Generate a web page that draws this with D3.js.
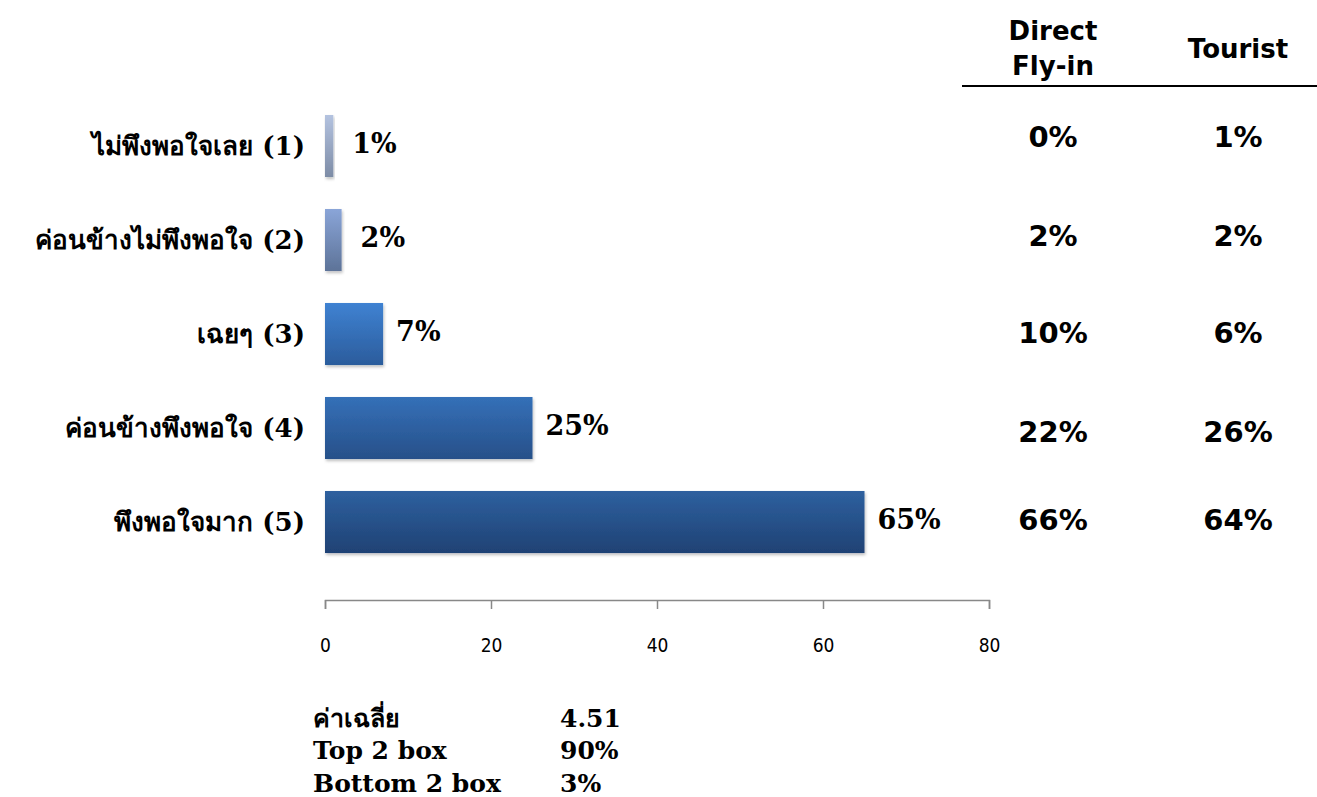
<!DOCTYPE html>
<html>
<head>
<meta charset="utf-8">
<script src="https://cdn.jsdelivr.net/npm/d3@7"></script>
<style>
  body { margin: 0; background: #fff; }
  #chart { width: 1317px; height: 797px; }
</style>
</head>
<body>
<div id="chart"></div>
<script>

var categories = ["ไม่พึงพอใจเลย (1)", "ค่อนข้างไม่พึงพอใจ (2)", "เฉยๆ (3)", "ค่อนข้างพึงพอใจ (4)", "พึงพอใจมาก (5)"];
var totalValues = [1, 2, 7, 25, 65];
var directValues = [0, 2, 10, 22, 66];
var touristValues = [1, 2, 6, 26, 64];
var xTicks = [0, 20, 40, 60, 80];
var statLabels = ["ค่าเฉลี่ย", "Top 2 box", "Bottom 2 box"];
var statValues = ["4.51", "90%", "3%"];

// gradient colours per bar (top, bottom)
var barColors = [
    ["#b4c3e0", "#7d8ca6"],
    ["#8aa5d8", "#5d7398"],
    ["#3f82d2", "#2b5c9c"],
    ["#3470b8", "#275089"],
    ["#2e609f", "#1f4274"]
];

var width = 1317, height = 797;
var svg = d3.select("#chart")
    .append("svg")
    .attr("width", width)
    .attr("height", height);

var defs = svg.append("defs");
barColors.forEach(function(c, i) {
    var g = defs.append("linearGradient")
        .attr("id", "grad" + i)
        .attr("x1", 0).attr("y1", 0).attr("x2", 0).attr("y2", 1);
    g.append("stop").attr("offset", "0%").attr("stop-color", c[0]);
    g.append("stop").attr("offset", "100%").attr("stop-color", c[1]);
});
var filt = defs.append("filter").attr("id", "shadow")
    .attr("x", "-10%").attr("y", "-10%").attr("width", "130%").attr("height", "130%");
filt.append("feDropShadow")
    .attr("dx", 1).attr("dy", 2).attr("stdDeviation", 1.5)
    .attr("flood-color", "#000").attr("flood-opacity", 0.25);

var x = d3.scaleLinear().domain([0, 80]).range([325, 989]);
var y = d3.scaleBand().domain(categories).range([99, 569]).paddingInner(0.34).paddingOuter(0.17);

var labelFont = "'DejaVu Serif', 'Liberation Serif', serif";
var tableFont = "'DejaVu Sans', Verdana, sans-serif";

// bars
svg.selectAll("rect.bar")
    .data(totalValues)
    .enter()
    .append("rect")
    .attr("class", "bar")
    .attr("x", x(0))
    .attr("y", function(d, i) { return y(categories[i]); })
    .attr("width", function(d) { return x(d) - x(0); })
    .attr("height", y.bandwidth())
    .attr("fill", function(d, i) { return "url(#grad" + i + ")"; })
    .attr("filter", "url(#shadow)");

// category labels
svg.selectAll("text.cat")
    .data(categories)
    .enter()
    .append("text")
    .attr("class", "cat")
    .attr("x", 305)
    .attr("y", function(d) { return y(d) + y.bandwidth() / 2; })
    .attr("dy", "0.35em")
    .attr("text-anchor", "end")
    .attr("font-family", labelFont)
    .attr("font-weight", "700")
    .attr("font-size", "26px")
    .attr("fill", "#000")
    .text(function(d) { return d; });

// value labels
svg.selectAll("text.val")
    .data(totalValues)
    .enter()
    .append("text")
    .attr("class", "val")
    .attr("x", function(d) { return x(d) + (d < 5 ? 19 : 13); })
    .attr("y", function(d, i) { return y(categories[i]) + y.bandwidth() / 2 - 2; })
    .attr("dy", "0.35em")
    .attr("font-family", labelFont)
    .attr("font-weight", "700")
    .attr("font-size", "27px")
    .attr("fill", "#000")
    .text(function(d) { return d + "%"; });

// x axis
var axis = svg.append("g")
    .attr("transform", "translate(0,600)")
    .call(d3.axisBottom(x).tickValues(xTicks).tickSizeInner(9).tickSizeOuter(9).tickPadding(30));
axis.select(".domain").attr("stroke", "#888").attr("stroke-width", 1.5);
axis.selectAll(".tick line").attr("stroke", "#888").attr("stroke-width", 1.5);
axis.selectAll(".tick text")
    .attr("font-family", "'DejaVu Sans Condensed', 'Liberation Sans Narrow', sans-serif")
    .attr("font-size", "19px")
    .attr("fill", "#000");

// right table
var colX = [1053, 1238];
svg.append("text")
    .attr("x", colX[0]).attr("y", 40)
    .attr("text-anchor", "middle")
    .attr("font-family", tableFont).attr("font-weight", "700").attr("font-size", "26px")
    .text("Direct");
svg.append("text")
    .attr("x", colX[0]).attr("y", 75)
    .attr("text-anchor", "middle")
    .attr("font-family", tableFont).attr("font-weight", "700").attr("font-size", "26px")
    .text("Fly-in");
svg.append("text")
    .attr("x", colX[1]).attr("y", 58)
    .attr("text-anchor", "middle")
    .attr("font-family", tableFont).attr("font-weight", "700").attr("font-size", "26px")
    .text("Tourist");
svg.append("line")
    .attr("x1", 962).attr("x2", 1317)
    .attr("y1", 86).attr("y2", 86)
    .attr("stroke", "#000").attr("stroke-width", 2);

var rowY = [137, 236, 333, 432, 520];
[directValues, touristValues].forEach(function(vals, c) {
    svg.selectAll("text.col" + c)
        .data(vals)
        .enter()
        .append("text")
        .attr("class", "col" + c)
        .attr("x", colX[c])
        .attr("y", function(d, i) { return rowY[i]; })
        .attr("dy", "0.35em")
        .attr("text-anchor", "middle")
        .attr("font-family", tableFont)
        .attr("font-weight", "700")
        .attr("font-size", "29px")
        .text(function(d) { return d + "%"; });
});

// summary stats
var statY = [718, 750, 783];
svg.selectAll("text.slab")
    .data(statLabels)
    .enter()
    .append("text")
    .attr("class", "slab")
    .attr("x", 313)
    .attr("y", function(d, i) { return statY[i]; })
    .attr("dy", "0.35em")
    .attr("font-family", labelFont)
    .attr("font-weight", "700")
    .attr("font-size", "25px")
    .text(function(d) { return d; });
svg.selectAll("text.sval")
    .data(statValues)
    .enter()
    .append("text")
    .attr("class", "sval")
    .attr("x", 560)
    .attr("y", function(d, i) { return statY[i]; })
    .attr("dy", "0.35em")
    .attr("font-family", labelFont)
    .attr("font-weight", "700")
    .attr("font-size", "25px")
    .text(function(d) { return d; });

</script>
</body>
</html>
